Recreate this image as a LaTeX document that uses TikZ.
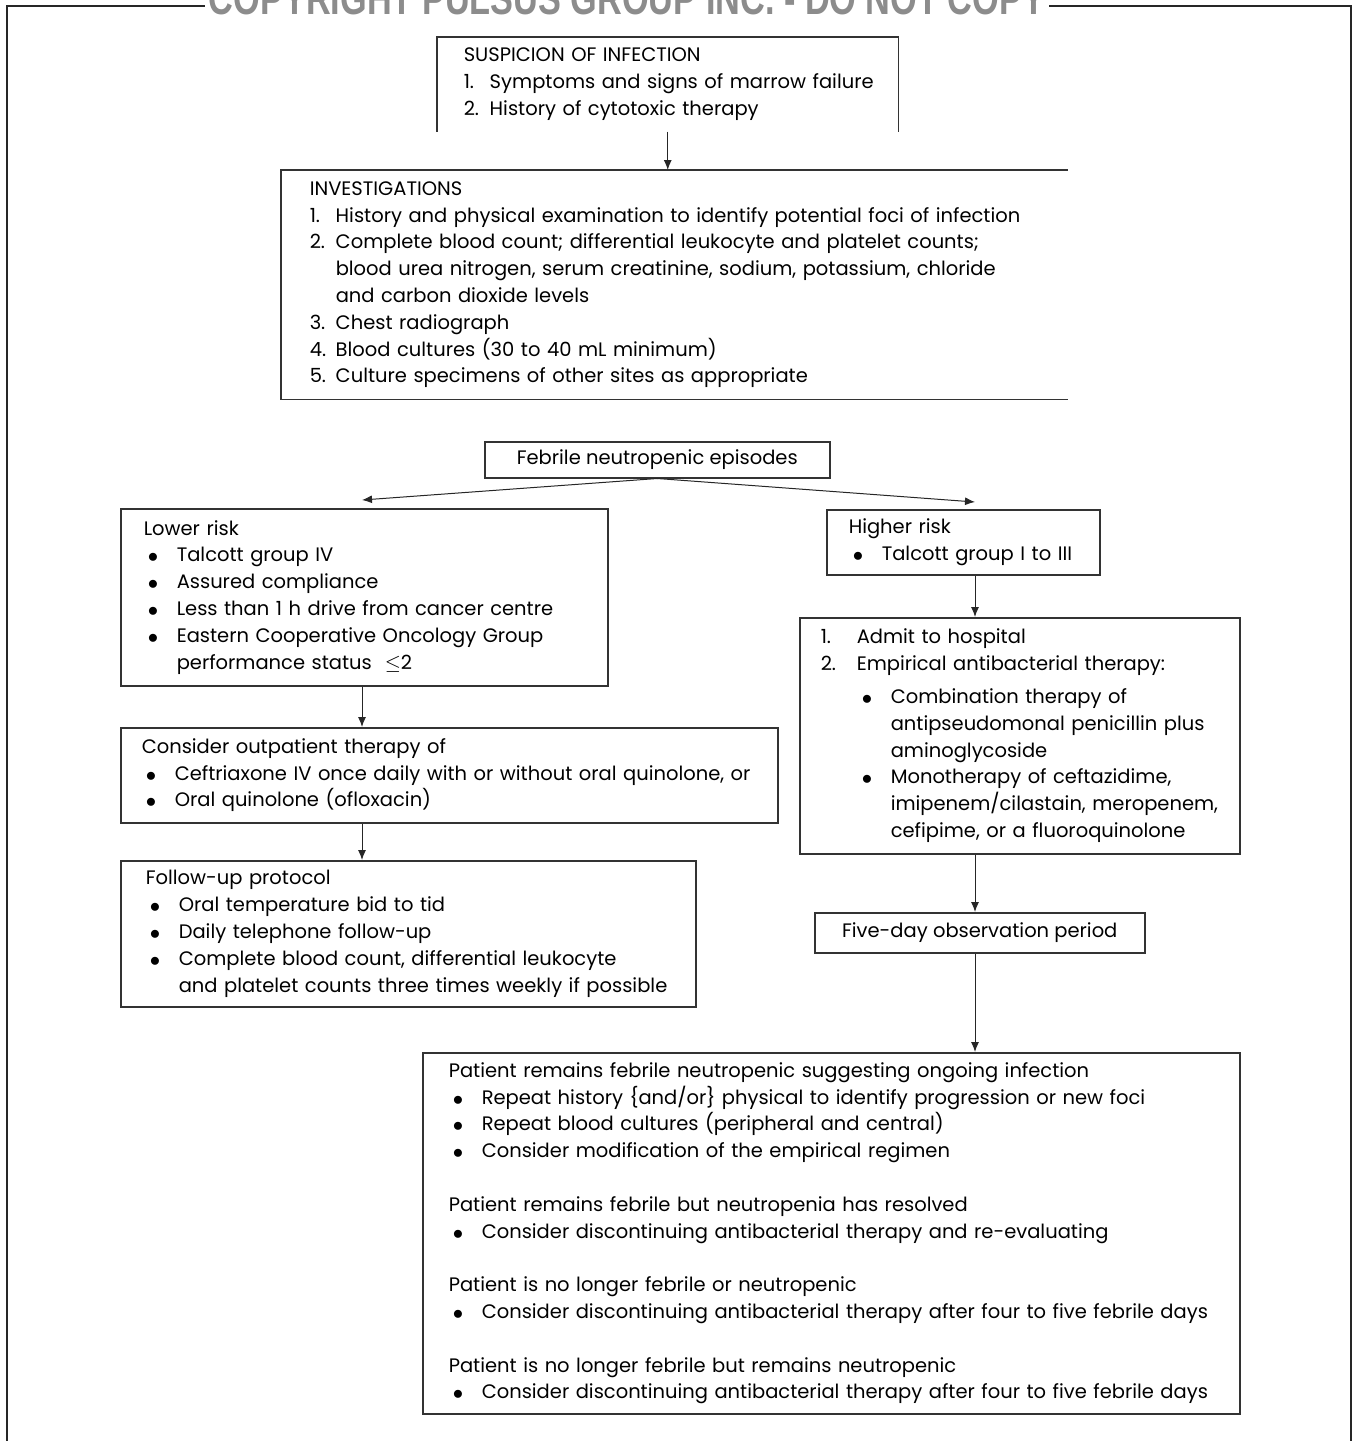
\documentclass[tikz,border=0pt]{standalone}
\usepackage{fontspec}
\setmainfont{Poppins}
\newfontfamily\wmfont{Liberation Sans}
\usetikzlibrary{arrows.meta}

\newcommand{\bodyfont}{\fontsize{19.5}{26.8}\selectfont}
\newcommand{\bul}{\hspace*{4pt}\makebox[29pt][l]{\raisebox{-1pt}{$\bullet$}}}
\newcommand{\nr}[1]{\makebox[26pt][l]{#1}}
\newcommand{\ind}[1]{\hspace*{#1}}

\tikzset{
  box/.style={draw=black!80, line width=1.5pt, anchor=north west, align=left, inner ysep=0pt, font=\bodyfont},
  openbox/.style={box, draw=none},
  boxline/.style={draw=black!80, line width=1.5pt},
  arr/.style={-{Latex[length=10pt,width=8pt]}, line width=1pt, draw=black!85},
  frame/.style={draw=black!85, line width=1.6pt},
}

\begin{document}
\begin{tikzpicture}[x=1pt, y=-1pt]

\useasboundingbox (0,0) rectangle (1356,1441);
\clip (0,0) rectangle (1356,1441);

% outer frame and watermark
\draw[frame] (7,1441) -- (7,6) -- (1351,6) -- (1351,1441);
\node[fill=white, inner xsep=4pt, inner ysep=0pt, anchor=base, text=black!45] (wm) at (627,14)
  {\resizebox{836pt}{32pt}{\wmfont\bfseries COPYRIGHT PULSUS GROUP INC. - DO NOT COPY}};

% Suspicion of infection (open at the bottom)
\node[openbox, text width=408pt, inner xsep=26pt, minimum height=93pt] (susp) at (437,37)
  {SUSPICION OF INFECTION\\
   \mbox{\nr{1.}Symptoms and signs of marrow failure}\\
   \nr{2.}History of cytotoxic therapy};
\draw[boxline] (susp.south west) -- (susp.north west) -- (susp.north east) -- (susp.south east);

% Investigations (open at the right)
\node[openbox, text width=729pt, inner xsep=28pt, minimum height=228pt] (inv) at (281,170)
  {INVESTIGATIONS\\
   \nr{1.}History and physical examination to identify potential foci of infection\\
   \nr{2.}Complete blood count; differential leukocyte and platelet counts;\\
   \ind{26pt}blood urea nitrogen, serum creatinine, sodium, potassium, chloride\\
   \ind{26pt}and carbon dioxide levels\\
   \nr{3.}Chest radiograph\\
   \nr{4.}Blood cultures (30 to 40 mL minimum)\\
   \nr{5.}Culture specimens of other sites as appropriate};
\draw[boxline] (inv.north east) -- (inv.north west) -- (inv.south west) -- (inv.south east);

% Febrile neutropenic episodes
\node[box, align=center, inner sep=0pt, minimum width=345pt, minimum height=36pt] (feb) at (484,441)
  {Febrile neutropenic episodes};

\coordinate (lowtip) at (362,500);
\coordinate (hightip) at (975,502);
\draw[arr] (feb.south) -- (lowtip);
\draw[arr] (feb.south) -- (hightip);

% Lower risk branch
\node[box, text width=441pt, inner xsep=23pt, minimum height=177pt] (low) at (120,508)
  {Lower risk\\
   \bul Talcott group IV\\
   \bul Assured compliance\\
   \bul Less than 1 h drive from cancer centre\\
   \bul Eastern Cooperative Oncology Group\\
   \ind{33pt}performance status \ $\leq$2};

\node[box, text width=615pt, inner xsep=21pt, minimum height=95pt] (cons) at (120,727)
  {Consider outpatient therapy of\\
   \bul Ceftriaxone IV once daily with or without oral quinolone, or\\
   \bul Oral quinolone (ofloxacin)};

\node[box, text width=525pt, inner xsep=25pt, minimum height=146pt] (foll) at (120,860)
  {Follow-up protocol\\
   \bul Oral temperature bid to tid\\
   \bul Daily telephone follow-up\\
   \bul Complete blood count, differential leukocyte\\
   \ind{33pt}and platelet counts three times weekly if possible};

% Higher risk branch
\node[box, text width=229pt, inner xsep=22pt, minimum height=65pt] (high) at (826,509)
  {Higher risk\\
   \bul Talcott group I to III};

\node[box, text width=398pt, inner xsep=21pt, minimum height=236pt] (adm) at (799,617)
  {\makebox[36pt][l]{1.}Admit to hospital\\
   \makebox[36pt][l]{2.}Empirical antibacterial therapy:\\[6pt]
   \ind{37pt}\bul Combination therapy of\\
   \ind{70pt}antipseudomonal penicillin plus\\
   \ind{70pt}aminoglycoside\\
   \ind{37pt}\bul Monotherapy of ceftazidime,\\
   \ind{70pt}imipenem/cilastain, meropenem,\\
   \ind{70pt}cefipime, or a fluoroquinolone};

\node[box, align=center, inner sep=0pt, minimum width=330pt, minimum height=40pt] (five) at (814,912)
  {Five-day observation period};

\node[box, text width=765pt, inner xsep=26pt, minimum height=361pt] (rem) at (422,1052)
  {Patient remains febrile neutropenic suggesting ongoing infection\\
   \bul Repeat history \{and/or\} physical to identify progression or new foci\\
   \bul Repeat blood cultures (peripheral and central)\\
   \bul Consider modification of the empirical regimen\\[26.8pt]
   Patient remains febrile but neutropenia has resolved\\
   \bul Consider discontinuing antibacterial therapy and re-evaluating\\[26.8pt]
   Patient is no longer febrile or neutropenic\\
   \bul Consider discontinuing antibacterial therapy after four to five febrile days\\[26.8pt]
   Patient is no longer febrile but remains neutropenic\\
   \bul Consider discontinuing antibacterial therapy after four to five febrile days};

% connectors
\coordinate (lcol) at (362,0);
\coordinate (rcol) at (975,0);
\draw[arr] (susp.south) -- (susp.south |- inv.north);
\draw[arr] (lcol |- low.south) -- (lcol |- cons.north);
\draw[arr] (lcol |- cons.south) -- (lcol |- foll.north);
\draw[arr] (rcol |- high.south) -- (rcol |- adm.north);
\draw[arr] (rcol |- adm.south) -- (rcol |- five.north);
\draw[arr] (rcol |- five.south) -- (rcol |- rem.north);

\end{tikzpicture}
\end{document}
